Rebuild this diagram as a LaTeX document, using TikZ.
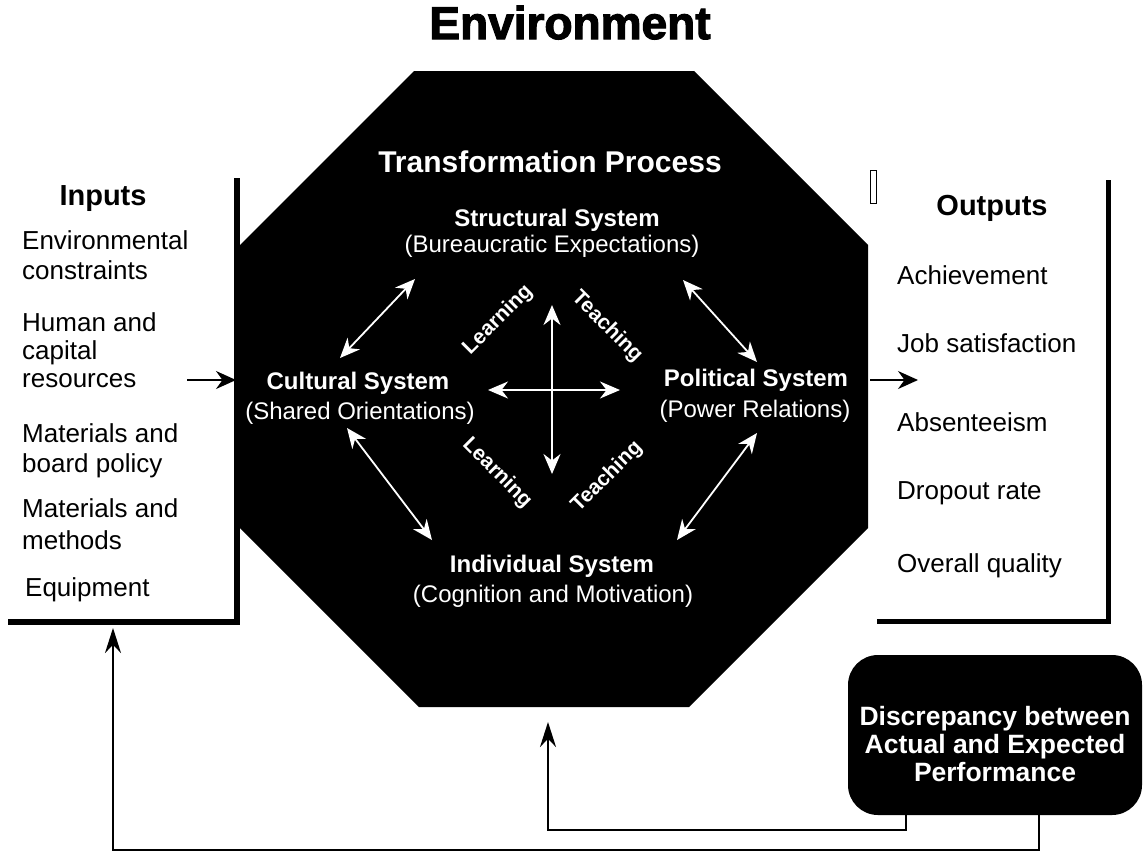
\documentclass[tikz,border=0pt]{standalone}
\usepackage{fontspec}
\setmainfont{Liberation Sans}
\newfontfamily\titlefont[FakeBold=2.5]{Liberation Sans Bold}
\usetikzlibrary{arrows.meta,positioning}
\tikzset{
	heading/.style={
		anchor=base,
		inner sep=0pt,
		font=\fontsize{29}{32}\selectfont\bfseries
	},
	item/.style={
		anchor=base west,
		inner sep=0pt,
		font=\fontsize{26}{30}\selectfont
	},
	sysname/.style={
		anchor=base,
		inner sep=0pt,
		text=white,
		font=\fontsize{24}{28}\selectfont\bfseries
	},
	syssub/.style={
		anchor=base,
		inner sep=0pt,
		text=white,
		font=\fontsize{24}{28}\selectfont
	},
	flowtext/.style={
		inner sep=0pt,
		text=white,
		font=\fontsize{21}{24}\selectfont\bfseries
	},
	flow/.style={
		draw=white,
		line width=1.8pt,
		{Stealth[length=20pt,width=17pt]}-{Stealth[length=20pt,width=17pt]}
	},
	feed/.style={
		draw=black,
		line width=1.6pt,
		-{Stealth[length=25pt,width=16pt]}
	},
	side/.style={
		draw=black,
		line width=1.6pt,
		-{Stealth[length=20pt,width=18pt]}
	},
	bracket/.style={
		draw=black,
		line width=6pt
	},
	discrepancy/.style={
		rectangle,
		rounded corners=30pt,
		fill=black,
		minimum width=294pt,
		minimum height=160pt
	},
	gaptext/.style={
		inner sep=0pt,
		text=white,
		align=center,
		font=\fontsize{26.5}{28}\selectfont\bfseries
	},
}

\begin{document}
\begin{tikzpicture}[x=1pt,y=-1pt]
	\useasboundingbox (0,0) rectangle (1147,852);
	% transformation process
	\fill[black] (414,71) -- (694,71) -- (868,245) -- (868,528) -- (689,707) -- (419,707) -- (240,528) -- (240,245) -- cycle;
	\coordinate (proc-south) at (548,722);

	\node[anchor=base,inner sep=0pt,font=\titlefont\fontsize{46}{50}\selectfont] (env) at (570,39) {Environment};

	% brackets
	\draw[bracket] (237,178) -- (237,622) -- (8,622);
	\draw[bracket,line width=5pt] (1108,180) -- (1108,621) -- (877,621);
	\draw[line width=0.8pt] (870,170) rectangle (876,203);

	% inputs
	\node[heading] (inputs) at (103,205) {Inputs};
	\foreach \y/\t [count=\i] in {249/Environmental, 279/constraints, 331/Human and, 359/capital, 387/resources, 442/Materials and, 472/board policy, 517/Materials and, 549/methods}
		\node[item] (in-\i) at (22,\y) {\t};
	\node[item] (in-10) at (25,596) {Equipment};

	% outputs
	\node[heading] (outputs) at (992,215) {Outputs};
	\foreach \y/\t [count=\i] in {284/Achievement, 352/Job satisfaction, 431/Absenteeism, 499/Dropout rate, 572/Overall quality}
		\node[item] (out-\i) at (897,\y) {\t};

	\coordinate (in-src) at (187,380);
	\coordinate (in-dst) at (236,380);
	\coordinate (out-src) at (870,380);
	\coordinate (out-dst) at (918,380);
	\draw[side] (in-src) -- (in-dst);
	\draw[side] (out-src) -- (out-dst);

	% systems
	\node[sysname,font=\fontsize{30}{34}\selectfont\bfseries] (title) at (550,172) {Transformation Process};
	\node[sysname] (struct) at (557,226) {Structural System};
	\node[syssub] (struct-sub) at (552,252) {(Bureaucratic Expectations)};
	\node[sysname] (cult) at (358,389) {Cultural System};
	\node[syssub] (cult-sub) at (360,419) {(Shared Orientations)};
	\node[sysname] (pol) at (756,386) {Political System};
	\node[syssub] (pol-sub) at (755,417) {(Power Relations)};
	\node[sysname] (indiv) at (552,572) {Individual System};
	\node[syssub] (indiv-sub) at (553,602) {(Cognition and Motivation)};

	% arrows between systems
	\coordinate (ul-a) at (340,358);
	\coordinate (ul-b) at (415,279);
	\coordinate (ur-a) at (683,280);
	\coordinate (ur-b) at (757,362);
	\coordinate (ll-a) at (347,428);
	\coordinate (ll-b) at (432,540);
	\coordinate (lr-a) at (757,433);
	\coordinate (lr-b) at (677,540);
	\coordinate (c-top) at (552,305);
	\coordinate (c-bot) at (552,474);
	\coordinate (c-left) at (488,390);
	\coordinate (c-right) at (620,390);
	\draw[flow] (ul-a) -- (ul-b);
	\draw[flow] (ur-a) -- (ur-b);
	\draw[flow] (ll-a) -- (ll-b);
	\draw[flow] (lr-a) -- (lr-b);
	\draw[flow] (c-top) -- (c-bot);
	\draw[flow] (c-left) -- (c-right);

	\node[flowtext,rotate=45] (learn-up) at (498,320) {Learning};
	\node[flowtext,rotate=-45] (teach-up) at (607,327) {Teaching};
	\node[flowtext,rotate=-45] (learn-down) at (497,473) {Learning};
	\node[flowtext,rotate=45] (teach-down) at (607,477) {Teaching};

	% feedback
	\node[discrepancy] (gap) at (995,735) {};
	\node[gaptext] (gap-text) at (995,744) {Discrepancy between\\Actual and Expected\\Performance};
	\coordinate (fb-mid) at (548,830);
	\coordinate (fb-low) at (113,850);
	\coordinate (in-foot) at (113,628);
	\draw[feed] ([xshift=-89pt]gap.south) |- (fb-mid) -- (proc-south);
	\draw[feed] ([xshift=44pt]gap.south) |- (fb-low) -- (in-foot);
\end{tikzpicture}
\end{document}
